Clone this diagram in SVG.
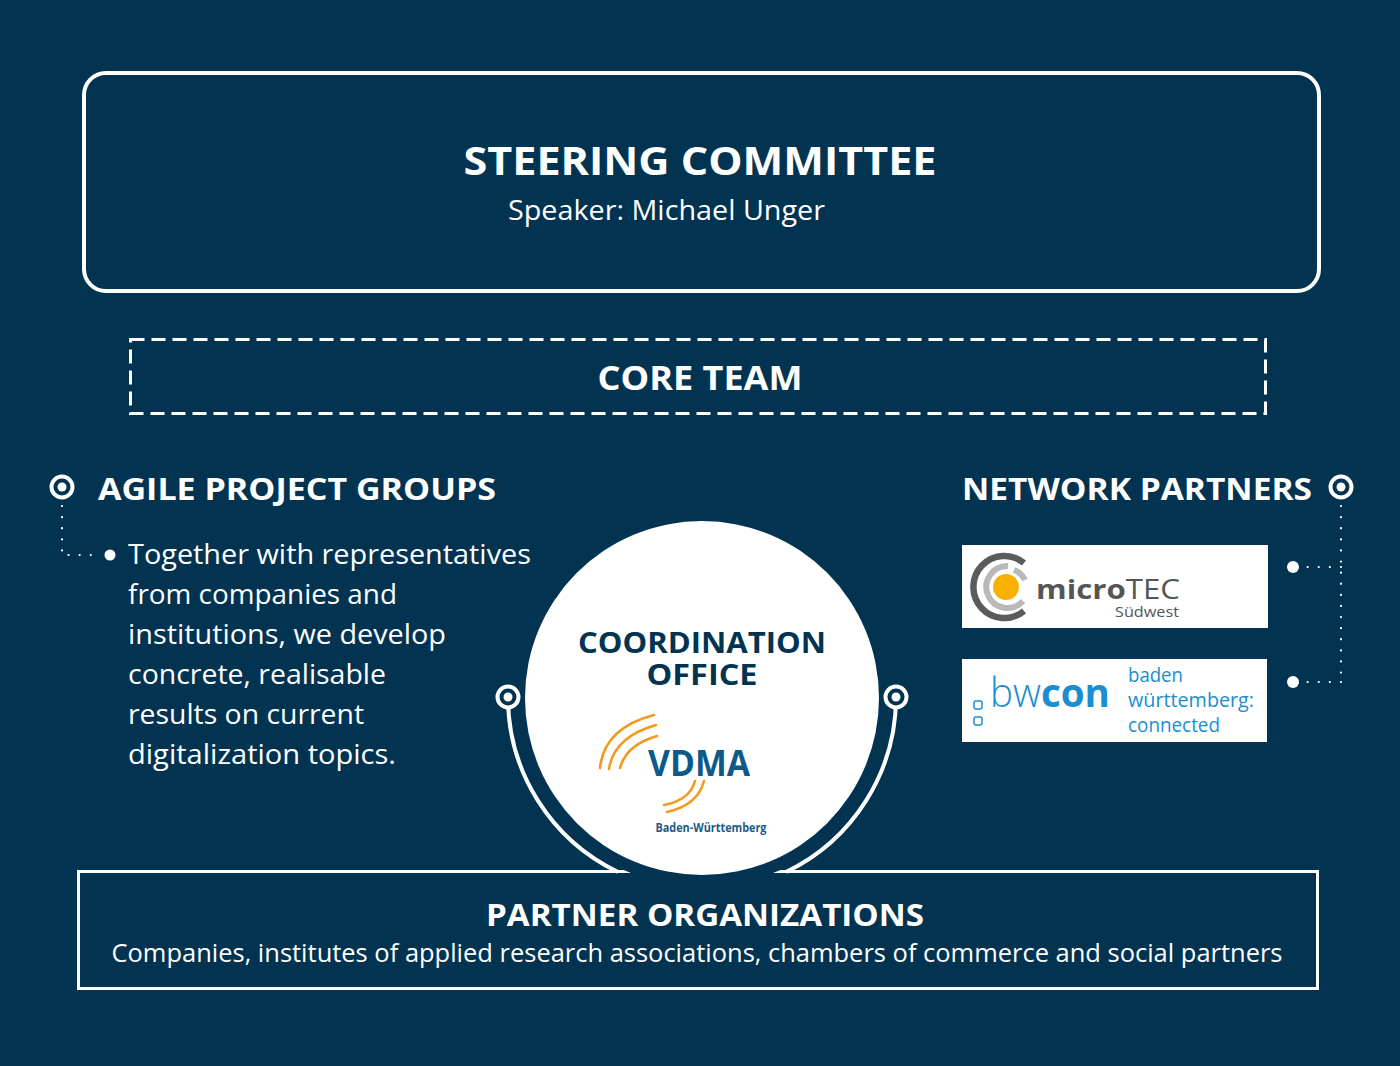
<svg xmlns="http://www.w3.org/2000/svg" width="1400" height="1066" viewBox="0 0 1400 1066">
<defs>
<style>
.bg{fill:#023451}
.frame{fill:none;stroke:#fff}
.h{font-family:"Open Sans","Liberation Sans",sans-serif;font-weight:700;fill:#fff}
.t{font-family:"Open Sans","Liberation Sans",sans-serif;font-weight:400;fill:#fff}
.dots{fill:none;stroke:#fff;stroke-width:2.2;stroke-linecap:round;stroke-dasharray:0.1 11}
.orange{fill:none;stroke:#f39a1e;stroke-linecap:round}
</style>
<g id="ring">
<circle r="10.5" fill="#023451" stroke="#fff" stroke-width="4"/>
<circle r="4.5" fill="#fff"/>
</g>
</defs>
<rect class="bg" x="0" y="0" width="1400" height="1066"/>

<g id="steering-committee">
<rect class="frame" x="84" y="73" width="1235" height="218" rx="22" stroke-width="4"/>
<text class="h" x="700" y="175" font-size="40" text-anchor="middle" textLength="473" lengthAdjust="spacingAndGlyphs">STEERING COMMITTEE</text>
<text class="t" x="508" y="220" font-size="27" textLength="317" lengthAdjust="spacingAndGlyphs">Speaker: Michael Unger</text>
</g>

<g id="core-team">
<rect class="frame" x="130.5" y="339.5" width="1135" height="74" stroke-width="3" stroke-dasharray="14 7"/>
<text class="h" x="700" y="390" font-size="34" text-anchor="middle" textLength="205" lengthAdjust="spacingAndGlyphs">CORE TEAM</text>
</g>

<g id="partner-organizations">
<rect class="frame" x="78.5" y="871.5" width="1239" height="117" stroke-width="3"/>
<text class="h" x="705" y="926" font-size="31" text-anchor="middle" textLength="438" lengthAdjust="spacingAndGlyphs">PARTNER ORGANIZATIONS</text>
<text class="t" x="697" y="962" font-size="25" text-anchor="middle" textLength="1171" lengthAdjust="spacingAndGlyphs">Companies, institutes of applied research associations, chambers of commerce and social partners</text>
</g>

<g id="connectors">
<circle class="bg" cx="702" cy="698" r="189"/>
<path class="frame" stroke-width="4" d="M508,697 A194,194 0 0 0 618,872"/>
<path class="frame" stroke-width="4" d="M896,697 A194,194 0 0 1 786,872"/>
<path class="dots" d="M62,506 V555 H100"/>
<circle cx="110" cy="555" r="5.5" fill="#fff"/>
<path class="dots" d="M1341,506 V682"/>
<path class="dots" d="M1341,567 H1305"/>
<path class="dots" d="M1341,682 H1305"/>
<circle cx="1293" cy="567" r="6" fill="#fff"/>
<circle cx="1293" cy="682" r="6" fill="#fff"/>
<use href="#ring" x="508" y="697"/>
<use href="#ring" x="896" y="697"/>
<use href="#ring" x="62" y="487"/>
<use href="#ring" x="1341" y="487"/>
</g>

<g id="agile-project-groups">
<text class="h" x="98" y="500" font-size="31" textLength="398" lengthAdjust="spacingAndGlyphs">AGILE PROJECT GROUPS</text>
<text class="t" font-size="28">
<tspan x="128" y="564" textLength="403" lengthAdjust="spacingAndGlyphs">Together with representatives</tspan>
<tspan x="128" y="604" textLength="269" lengthAdjust="spacingAndGlyphs">from companies and</tspan>
<tspan x="128" y="644" textLength="318" lengthAdjust="spacingAndGlyphs">institutions, we develop</tspan>
<tspan x="128" y="684" textLength="258" lengthAdjust="spacingAndGlyphs">concrete, realisable</tspan>
<tspan x="128" y="724" textLength="236" lengthAdjust="spacingAndGlyphs">results on current</tspan>
<tspan x="128" y="764" textLength="268" lengthAdjust="spacingAndGlyphs">digitalization topics.</tspan>
</text>
</g>

<g id="coordination-office">
<circle cx="702" cy="698" r="177" fill="#fff"/>
<text class="h" x="702" y="653" font-size="28" text-anchor="middle" textLength="248" lengthAdjust="spacingAndGlyphs" style="fill:#023451">COORDINATION</text>
<text class="h" x="702" y="685" font-size="29" text-anchor="middle" textLength="111" lengthAdjust="spacingAndGlyphs" style="fill:#023451">OFFICE</text>
<g id="vdma-logo">
<path class="orange" stroke-width="2.6" d="M600,768 Q604,728 654,715"/>
<path class="orange" stroke-width="2.6" d="M609,769 Q614,737 656,725"/>
<path class="orange" stroke-width="2.6" d="M620,768 Q626,745 657,736"/>
<path class="orange" stroke-width="2.6" d="M664,805 Q690,800 695,781"/>
<path class="orange" stroke-width="2.6" d="M667,812 Q698,805 704,781"/>
<text x="699" y="776" font-family="'Open Sans','Liberation Sans',sans-serif" font-weight="700" font-size="35" fill="#0d5a8a" text-anchor="middle" textLength="102" lengthAdjust="spacingAndGlyphs">VDMA</text>
<text x="711" y="832" font-family="'Open Sans','Liberation Sans',sans-serif" font-weight="700" font-size="12" fill="#1d5b86" text-anchor="middle" textLength="111" lengthAdjust="spacingAndGlyphs">Baden-Württemberg</text>
</g>
</g>

<g id="network-partners">
<text class="h" x="962" y="500" font-size="31" textLength="350" lengthAdjust="spacingAndGlyphs">NETWORK PARTNERS</text>
</g>

<g id="microtec">
<rect x="962" y="545" width="306" height="83" fill="#fff"/>
<path d="M1024,563 A31,31 0 1 0 1024,611" fill="none" stroke="#5b5b5b" stroke-width="6.5"/>
<path d="M1008,566 A21,21 0 1 0 1023,601" fill="none" stroke="#b9b9b9" stroke-width="6"/>
<path d="M1014,570 A21,21 0 0 1 1025,580" fill="none" stroke="#b9b9b9" stroke-width="6"/>
<circle cx="1006" cy="587" r="13" fill="#f9b000"/>
<text x="1036" y="599" font-family="'Open Sans','Liberation Sans',sans-serif" font-size="27" fill="#555" textLength="144" lengthAdjust="spacingAndGlyphs"><tspan font-weight="700">micro</tspan>TEC</text>
<text x="1115" y="617" font-family="'Open Sans','Liberation Sans',sans-serif" font-size="15" fill="#555" textLength="64" lengthAdjust="spacingAndGlyphs">Südwest</text>
</g>

<g id="bwcon">
<rect x="962" y="659" width="305" height="83" fill="#fff"/>
<rect x="974" y="701" width="8" height="8" rx="2" fill="none" stroke="#1a8ed0" stroke-width="1.5"/>
<rect x="974" y="717" width="8" height="8" rx="2" fill="none" stroke="#1a8ed0" stroke-width="1.5"/>
<text x="990" y="707" font-family="'Open Sans','Liberation Sans',sans-serif" font-size="40" fill="#1a8ed0" textLength="120" lengthAdjust="spacingAndGlyphs"><tspan font-weight="300">bw</tspan><tspan font-weight="700">con</tspan></text>
<text font-family="'Open Sans','Liberation Sans',sans-serif" font-size="20" fill="#1a8ed0">
<tspan x="1128" y="682" textLength="55" lengthAdjust="spacingAndGlyphs">baden</tspan>
<tspan x="1128" y="707" textLength="126" lengthAdjust="spacingAndGlyphs">württemberg:</tspan>
<tspan x="1128" y="732" textLength="92" lengthAdjust="spacingAndGlyphs">connected</tspan>
</text>
</g>
</svg>
